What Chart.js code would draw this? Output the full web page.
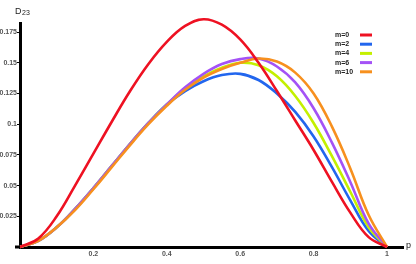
<!DOCTYPE html>
<html>
<head>
<meta charset="utf-8">
<script src="https://cdn.jsdelivr.net/npm/chart.js@4/dist/chart.umd.min.js"></script>
<style>
html,body{margin:0;padding:0;background:#fff;}
#wrap{width:416px;height:264px;position:relative;}
</style>
</head>
<body>
<div id="wrap"><canvas id="c"></canvas></div>
<script>
const pValues = [0,0.05,0.1,0.15,0.2,0.25,0.3,0.35,0.4,0.45,0.5,0.55,0.6,0.65,0.7,0.75,0.8,0.85,0.9,0.95,1];
const seriesLabels = ['m=0','m=2','m=4','m=6','m=10'];
const d_m0  = [0,0.007,0.025,0.050,0.076,0.102,0.127,0.149,0.167,0.180,0.1855,0.181,0.169,0.150,0.127,0.103,0.079,0.053,0.028,0.008,0];
const d_m2  = [0,0.005,0.016,0.031,0.048,0.066,0.084,0.101,0.116,0.127,0.135,0.140,0.141,0.136,0.125,0.110,0.090,0.065,0.038,0.013,0];
const d_m4  = [0,0.005,0.016,0.031,0.048,0.066,0.084,0.101,0.116,0.129,0.139,0.146,0.150,0.148,0.139,0.123,0.101,0.074,0.045,0.016,0];
const d_m6  = [0,0.005,0.016,0.031,0.048,0.066,0.084,0.101,0.116,0.130,0.141,0.149,0.153,0.1535,0.147,0.134,0.113,0.085,0.053,0.019,0];
const d_m10 = [0,0.005,0.016,0.030,0.047,0.065,0.083,0.100,0.115,0.128,0.138,0.145,0.150,0.1535,0.151,0.142,0.125,0.098,0.064,0.026,0];
const seriesColors = ['#ee1122','#2266ee','#c4f000','#a452f6','#f7901e'];
const xTickValues = [0.2,0.4,0.6,0.8,1];
const yTickValues = [0.025,0.05,0.075,0.1,0.125,0.15,0.175];
const xAxisTitle = 'p';
const yAxisTitle = 'D';
const yAxisSub = '23';

const allSeries = [d_m0,d_m2,d_m4,d_m6,d_m10];
const drawOrder = [0,4,3,2,1];
const datasets = allSeries.map((arr,i)=>({
  label: seriesLabels[i],
  data: arr.map((v,j)=>({x:pValues[j],y:v})),
  borderColor: seriesColors[i],
  backgroundColor: seriesColors[i],
  borderWidth: 2.6,
  pointRadius: 0,
  tension: 0.4,
  clip: false,
  order: drawOrder[i]
}));

const extras = {
  id:'extras',
  afterDraw(chart){
    const ctx = chart.ctx;
    const ca = chart.chartArea;
    ctx.save();
    ctx.strokeStyle='#000'; ctx.lineWidth=3;
    ctx.beginPath(); ctx.moveTo(ca.left-5, ca.bottom); ctx.lineTo(ca.left, ca.bottom); ctx.stroke();
    ctx.fillStyle='#222';
    ctx.font='9px "Liberation Sans", Arial, sans-serif';
    ctx.textBaseline='middle'; ctx.textAlign='left';
    ctx.fillText(xAxisTitle, ca.right+3, ca.bottom-1);
    ctx.fillText(yAxisTitle, 15, 12);
    const dw = ctx.measureText(yAxisTitle).width;
    ctx.font='7px "Liberation Sans", Arial, sans-serif';
    ctx.fillText(yAxisSub, 15+dw+0.5, 13.5);
    ctx.font='bold 7px "Liberation Sans", Arial, sans-serif';
    chart.data.datasets.forEach((ds,i)=>{
      const y = 35 + i*9.2;
      ctx.fillStyle='#222';
      ctx.fillText(ds.label, 335, y);
      ctx.strokeStyle=ds.borderColor; ctx.lineWidth=3;
      ctx.beginPath(); ctx.moveTo(360,y); ctx.lineTo(372,y); ctx.stroke();
    });
    ctx.restore();
  }
};

new Chart(document.getElementById('c'), {
  type:'line',
  data:{datasets},
  plugins:[extras],
  options:{
    responsive:true, maintainAspectRatio:false, animation:false,
    layout:{padding:{top:23,right:13,left:0,bottom:0}},
    plugins:{legend:{display:false},tooltip:{enabled:false}},
    scales:{
      x:{
        type:'linear', min:0, max:1.0436,
        afterFit(s){ s.height=17; },
        afterBuildTicks(s){ s.ticks = xTickValues.map(v=>({value:v})); },
        border:{display:true,color:'#000',width:3},
        grid:{drawOnChartArea:false,drawTicks:true,tickLength:2,color:'#000'},
        ticks:{font:{family:'"Liberation Sans", Arial, sans-serif',size:7,weight:'bold'},color:'#555',padding:1,maxRotation:0,
          callback:(v)=>String(v)}
      },
      y:{
        type:'linear', min:0, max:0.1824,
        afterFit(s){ s.width=20; },
        afterBuildTicks(s){ s.ticks = yTickValues.map(v=>({value:v})); },
        border:{display:true,color:'#000',width:3},
        grid:{drawOnChartArea:false,drawTicks:true,tickLength:3,color:'#000'},
        ticks:{font:{family:'"Liberation Sans", Arial, sans-serif',size:7,weight:'bold'},color:'#555',padding:0,
          callback:(v)=>String(v)}
      }
    }
  }
});
</script>
</body>
</html>
